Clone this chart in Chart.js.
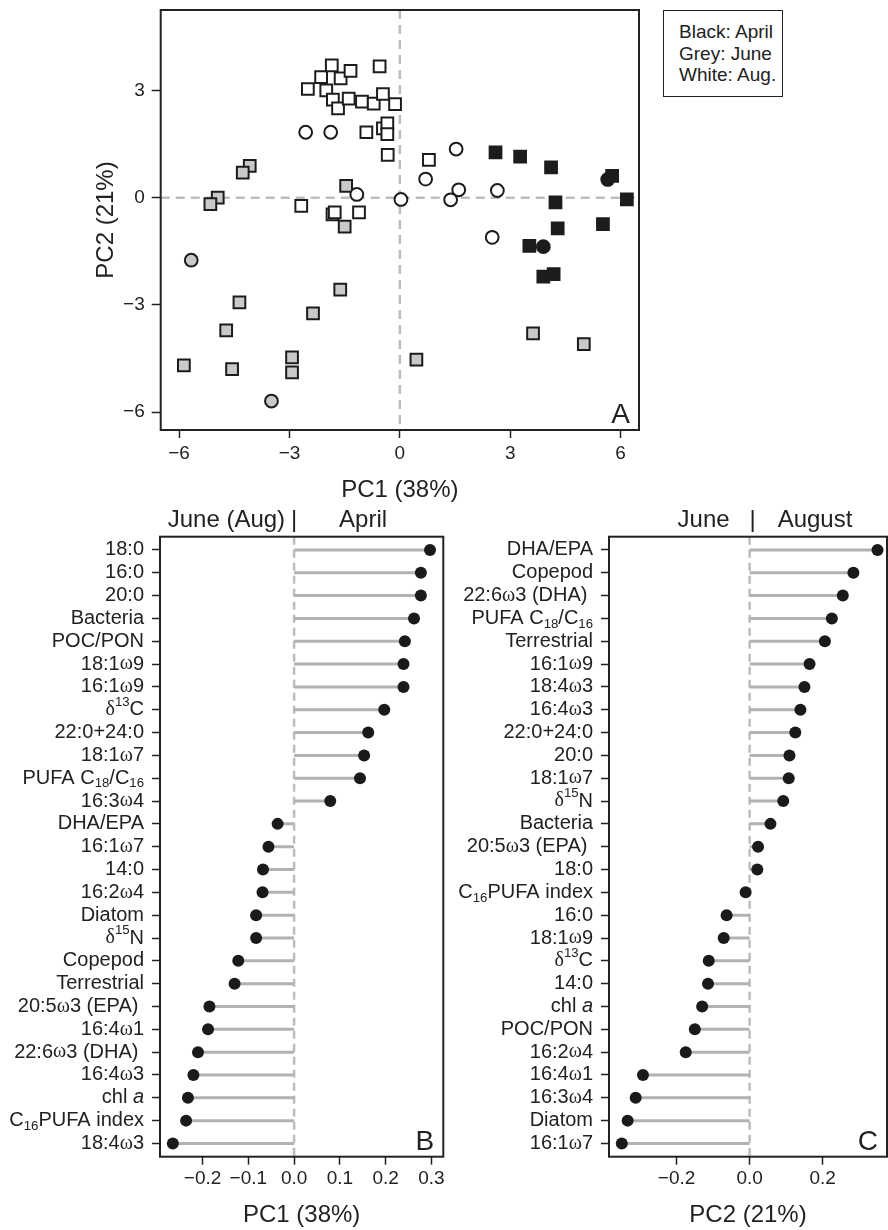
<!DOCTYPE html>
<html>
<head>
<meta charset="utf-8">
<script src="https://cdn.jsdelivr.net/npm/chart.js@4.4.1/dist/chart.umd.min.js"></script>
<style>
  body { margin: 0; background: #fff; width: 888px; height: 1230px; position: relative; overflow: hidden; }
  canvas { position: absolute; }
  #legendA {
    position: absolute; left: 663px; top: 10px; width: 120px; height: 87px; box-sizing: border-box;
    border: 1.5px solid #222; padding: 10px 0 0 15px;
    font: 19px "Liberation Sans", Arial, sans-serif; line-height: 21.7px; color: #222; white-space: nowrap;
  }
</style>
</head>
<body>
<canvas id="chartA"></canvas>
<canvas id="chartB"></canvas>
<canvas id="chartC"></canvas>
<div id="legendA">Black: April<br>Grey: June<br>White: Aug.</div>
<script>
// --- panel A: PCA scores (PC1, PC2) ---
const aprilSquares = [[2.60,1.27],[3.27,1.15],[4.11,0.85],[5.77,0.61],[6.17,-0.05],[4.23,-0.13],
  [4.29,-0.86],[5.52,-0.74],[3.52,-1.35],[3.90,-2.21],[4.18,-2.14]];
const aprilCircles = [[5.65,0.51],[3.90,-1.37]];
const juneSquares = [[-4.95,0.00],[-5.15,-0.18],[-4.08,0.89],[-4.27,0.70],[-1.46,0.33],[-1.50,-0.81],
  [-1.62,-2.57],[-2.36,-3.24],[-4.36,-2.93],[-4.72,-3.71],[-5.87,-4.69],[-4.56,-4.80],[-2.93,-4.47],
  [-2.93,-4.89],[0.45,-4.53],[3.62,-3.80],[5.00,-4.10]];
const juneCircles = [[-5.67,-1.75],[-3.49,-5.69]];
const augSquares = [[-2.50,3.04],[-2.14,3.37],[-1.85,3.70],[-1.61,3.34],[-1.34,3.55],[-0.55,3.67],
  [-2.00,3.00],[-1.82,2.74],[-1.68,2.50],[-1.39,2.77],[-1.03,2.69],[-0.71,2.63],[-0.46,2.90],
  [-0.13,2.62],[-0.91,1.83],[-0.46,1.94],[-0.34,2.08],[-0.34,1.78],[-0.33,1.20],[-2.68,-0.23],
  [-1.83,-0.47],[-1.77,-0.41],[-1.11,-0.41],[0.79,1.06]];
const augCircles = [[-2.56,1.83],[-1.88,1.83],[-1.17,0.09],[0.03,-0.05],[1.53,1.36],[0.70,0.52],
  [1.60,0.22],[1.38,-0.06],[2.65,0.20],[2.51,-1.11]];
const ticksAx = [-6, -3, 0, 3, 6];
const ticksAy = [-6, -3, 0, 3];

// --- panel B: PC1 loadings ---
const labelsB = ['18:0','16:0','20:0','Bacteria','POC/PON','18:1ω9','16:1ω9','δ^13^C','22:0+24:0',
  '18:1ω7','PUFA C_18_/C_16_','16:3ω4','DHA/EPA','16:1ω7','14:0','16:2ω4','Diatom','δ^15^N',
  'Copepod','Terrestrial','20:5ω3 (EPA) ','16:4ω1','22:6ω3 (DHA) ','16:4ω3','chl *a*',
  'C_16_PUFA index','18:4ω3'];
const valuesB = [0.297,0.277,0.277,0.262,0.242,0.239,0.239,0.197,0.162,0.153,0.144,0.079,-0.036,
  -0.056,-0.068,-0.069,-0.083,-0.083,-0.122,-0.130,-0.185,-0.188,-0.210,-0.220,-0.232,-0.236,-0.265];
const ticksB = [-0.2, -0.1, 0, 0.1, 0.2, 0.3];
const headB = ['June (Aug)', '|', 'April'];

// --- panel C: PC2 loadings ---
const labelsC = ['DHA/EPA','Copepod','22:6ω3 (DHA) ','PUFA C_18_/C_16_','Terrestrial','16:1ω9','18:4ω3',
  '16:4ω3','22:0+24:0','20:0','18:1ω7','δ^15^N','Bacteria','20:5ω3 (EPA) ','18:0','C_16_PUFA index',
  '16:0','18:1ω9','δ^13^C','14:0','chl *a*','POC/PON','16:2ω4','16:4ω1','16:3ω4','Diatom','16:1ω7'];
const valuesC = [0.350,0.284,0.255,0.225,0.206,0.164,0.150,0.139,0.125,0.109,0.107,0.092,0.057,0.023,
  0.021,-0.011,-0.063,-0.071,-0.112,-0.114,-0.130,-0.150,-0.175,-0.292,-0.312,-0.334,-0.350];
const ticksC = [-0.2, 0, 0.2];
const headC = ['June', '|', 'August'];

const FONT = '"Liberation Sans", Arial, sans-serif';
const INK = '#222';

function minus(v, d) {
  const s = Math.abs(v).toFixed(d);
  return v < -1e-9 ? '\u2212' + s : s;
}

// fix an axis box size and drop the label-overflow padding so the plot box lands where wanted
function fixSize(prop, val) {
  return s => {
    s[prop] = val;
    s.paddingTop = s.paddingBottom = s.paddingLeft = s.paddingRight = 0;
  };
}

// label text with ^sup^, _sub_, *italic*; greek in a serif face
function drawRich(ctx, str, xRight, y, size) {
  const segs = [];
  str.split(/(\^[^^]+\^|_[^_]+_|\*[^*]+\*)/).filter(Boolean).forEach(p => {
    if (p[0] === '^') segs.push({ t: p.slice(1, -1), k: 'sup' });
    else if (p[0] === '_') segs.push({ t: p.slice(1, -1), k: 'sub' });
    else if (p[0] === '*') segs.push({ t: p.slice(1, -1), k: 'it' });
    else p.split(/([ωδ])/).filter(Boolean).forEach(q => segs.push({ t: q, k: /[ωδ]/.test(q) ? 'gr' : 'n' }));
  });
  const fontOf = s => {
    if (s.k === 'sup' || s.k === 'sub') return (size * 0.66) + 'px ' + FONT;
    if (s.k === 'it') return 'italic ' + size + 'px ' + FONT;
    if (s.k === 'gr') return size + 'px "Liberation Serif", serif';
    return size + 'px ' + FONT;
  };
  let w = 0;
  segs.forEach(s => { ctx.font = fontOf(s); s.w = ctx.measureText(s.t).width; w += s.w; });
  let x = xRight - w;
  ctx.textAlign = 'left';
  ctx.textBaseline = 'middle';
  segs.forEach(s => {
    ctx.font = fontOf(s);
    const dy = s.k === 'sup' ? -size * 0.36 : s.k === 'sub' ? size * 0.28 : 0;
    ctx.fillText(s.t, x, y + dy);
    x += s.w;
  });
}

// frame, zero lines, panel letter, header and row labels
function deco(o) {
  return {
    id: 'deco',
    beforeDatasetsDraw(chart) {
      const { ctx, chartArea: a, scales } = chart;
      ctx.save();
      ctx.strokeStyle = '#bdbdbd';
      ctx.lineWidth = 2.5;
      ctx.setLineDash(o.dash);
      const x0 = scales.x.getPixelForValue(0);
      ctx.beginPath(); ctx.moveTo(x0, a.top); ctx.lineTo(x0, a.bottom); ctx.stroke();
      if (o.zeroY) {
        const y0 = scales.y.getPixelForValue(0);
        ctx.beginPath(); ctx.moveTo(a.left, y0); ctx.lineTo(a.right, y0); ctx.stroke();
      }
      ctx.restore();
    },
    afterDraw(chart) {
      const { ctx, chartArea: a, scales } = chart;
      ctx.save();
      ctx.strokeStyle = INK;
      ctx.lineWidth = 2;
      ctx.strokeRect(a.left, a.top, a.right - a.left, a.bottom - a.top);
      ctx.fillStyle = INK;
      ctx.font = '28px ' + FONT;
      ctx.textAlign = 'right';
      ctx.textBaseline = 'alphabetic';
      ctx.fillText(o.letter, a.right - 9, a.bottom - 7);
      if (o.head) {
        const x0 = scales.x.getPixelForValue(0);
        const hy = a.top - 16;
        ctx.font = '24px ' + FONT;
        ctx.textBaseline = 'middle';
        ctx.textAlign = 'right'; ctx.fillText(o.head[0], x0 + o.headOff[0], hy);
        ctx.textAlign = 'center'; ctx.fillText(o.head[1], x0 + o.headOff[1], hy);
        ctx.textAlign = 'left'; ctx.fillText(o.head[2], x0 + o.headOff[2], hy);
      }
      if (o.labels) {
        o.labels.forEach((lab, i) => drawRich(ctx, lab, a.left - 16, scales.y.getPixelForValue(i), 20));
      }
      ctx.restore();
    }
  };
}

function place(id, left, top, w, h) {
  const c = document.getElementById(id);
  c.width = w; c.height = h;
  c.style.left = left + 'px'; c.style.top = top + 'px';
  c.style.width = w + 'px'; c.style.height = h + 'px';
  return c;
}

function pts(arr) { return arr.map(([x, y]) => ({ x, y })); }

function group(arr, style, fill) {
  return {
    data: pts(arr),
    pointStyle: style,
    pointRadius: style === 'rect' ? 8.3 : 6.4,
    backgroundColor: fill,
    borderColor: '#1c1c1c',
    borderWidth: 2
  };
}

const tickGrid = { drawOnChartArea: false, drawTicks: true, tickLength: 8, tickColor: INK, tickWidth: 1.5 };

// ---------- Panel A ----------
new Chart(place('chartA', 0, 0, 645, 510), {
  type: 'scatter',
  data: {
    datasets: [
      group(aprilSquares, 'rect', '#1c1c1c'),
      group(aprilCircles, 'circle', '#1c1c1c'),
      group(augSquares, 'rect', '#ffffff'),
      group(augCircles, 'circle', '#ffffff'),
      group(juneSquares, 'rect', '#c9c9c9'),
      group(juneCircles, 'circle', '#c9c9c9')
    ]
  },
  options: {
    responsive: false,
    animation: false,
    events: [],
    layout: { autoPadding: false, padding: { left: 92.3, top: 10, right: 6, bottom: 5.6 } },
    plugins: { legend: { display: false }, tooltip: { enabled: false } },
    scales: {
      x: {
        type: 'linear', min: -6.5, max: 6.5,
        afterBuildTicks: s => { s.ticks = ticksAx.map(v => ({ value: v })); },
        afterFit: fixSize('height', 74.4),
        grid: tickGrid,
        border: { display: false },
        ticks: { color: INK, font: { size: 19, family: FONT }, padding: 4, maxRotation: 0, callback: v => minus(v, 0) },
        title: { display: true, text: 'PC1 (38%)', color: INK, font: { size: 24, family: FONT }, padding: 0 }
      },
      y: {
        type: 'linear', min: -6.5, max: 5.25,
        afterBuildTicks: s => { s.ticks = ticksAy.map(v => ({ value: v })); },
        afterFit: fixSize('width', 68.4),
        grid: Object.assign({}, tickGrid, { tickLength: 9 }),
        border: { display: false },
        ticks: { color: INK, font: { size: 19, family: FONT }, padding: 7, callback: v => minus(v, 0) },
        title: { display: true, text: 'PC2 (21%)', color: INK, font: { size: 24, family: FONT }, padding: 0 }
      }
    }
  },
  plugins: [deco({ dash: [9, 6], zeroY: true, letter: 'A' })]
});

// ---------- Panels B and C (lollipops) ----------
function lollipop(id, left, width, labels, values, xTicks, xMin, xMax, axisW, padRight, title, head, headOff, letter) {
  const stems = values.flatMap((v, i) => [{ x: 0, y: i }, { x: v, y: i }, { x: 0, y: null }]);
  return new Chart(place(id, left, 490, width, 740), {
    type: 'scatter',
    data: {
      datasets: [
        { data: values.map((v, i) => ({ x: v, y: i })), pointRadius: 6, backgroundColor: '#1a1a1a', borderColor: '#1a1a1a', borderWidth: 0 },
        { data: stems, showLine: true, spanGaps: false, pointRadius: 0, borderColor: '#b2b2b2', borderWidth: 3 }
      ]
    },
    options: {
      responsive: false,
      animation: false,
      events: [],
      layout: { autoPadding: false, padding: { left: 0, top: 46.7, right: padRight, bottom: 0.6 } },
      plugins: { legend: { display: false }, tooltip: { enabled: false } },
      scales: {
        x: {
          type: 'linear', min: xMin, max: xMax,
          afterBuildTicks: s => { s.ticks = xTicks.map(v => ({ value: v })); },
          afterFit: fixSize('height', 72.7),
          grid: tickGrid,
          border: { display: false },
          ticks: { color: INK, font: { size: 19, family: FONT }, padding: 3, maxRotation: 0, callback: v => minus(v, 1) },
          title: { display: true, text: title, color: INK, font: { size: 24, family: FONT }, padding: 0 }
        },
        y: {
          type: 'linear', min: -0.58, max: labels.length - 1 + 0.58, reverse: true,
          afterBuildTicks: s => { s.ticks = labels.map((_, i) => ({ value: i })); },
          afterFit: fixSize('width', axisW),
          grid: tickGrid,
          border: { display: false },
          ticks: { callback: () => '' }
        }
      }
    },
    plugins: [deco({ dash: [8, 5], zeroY: false, letter, head, headOff, labels })]
  });
}

lollipop('chartB', 0, 445, labelsB, valuesB, ticksB, -0.293, 0.326, 160, 1.7, 'PC1 (38%)', headB, [-9, 0, 45], 'B');
lollipop('chartC', 445, 443, labelsC, valuesC, ticksC, -0.385, 0.376, 164, 1, 'PC2 (21%)', headC, [-20, 3, 28], 'C');
</script>
</body>
</html>
